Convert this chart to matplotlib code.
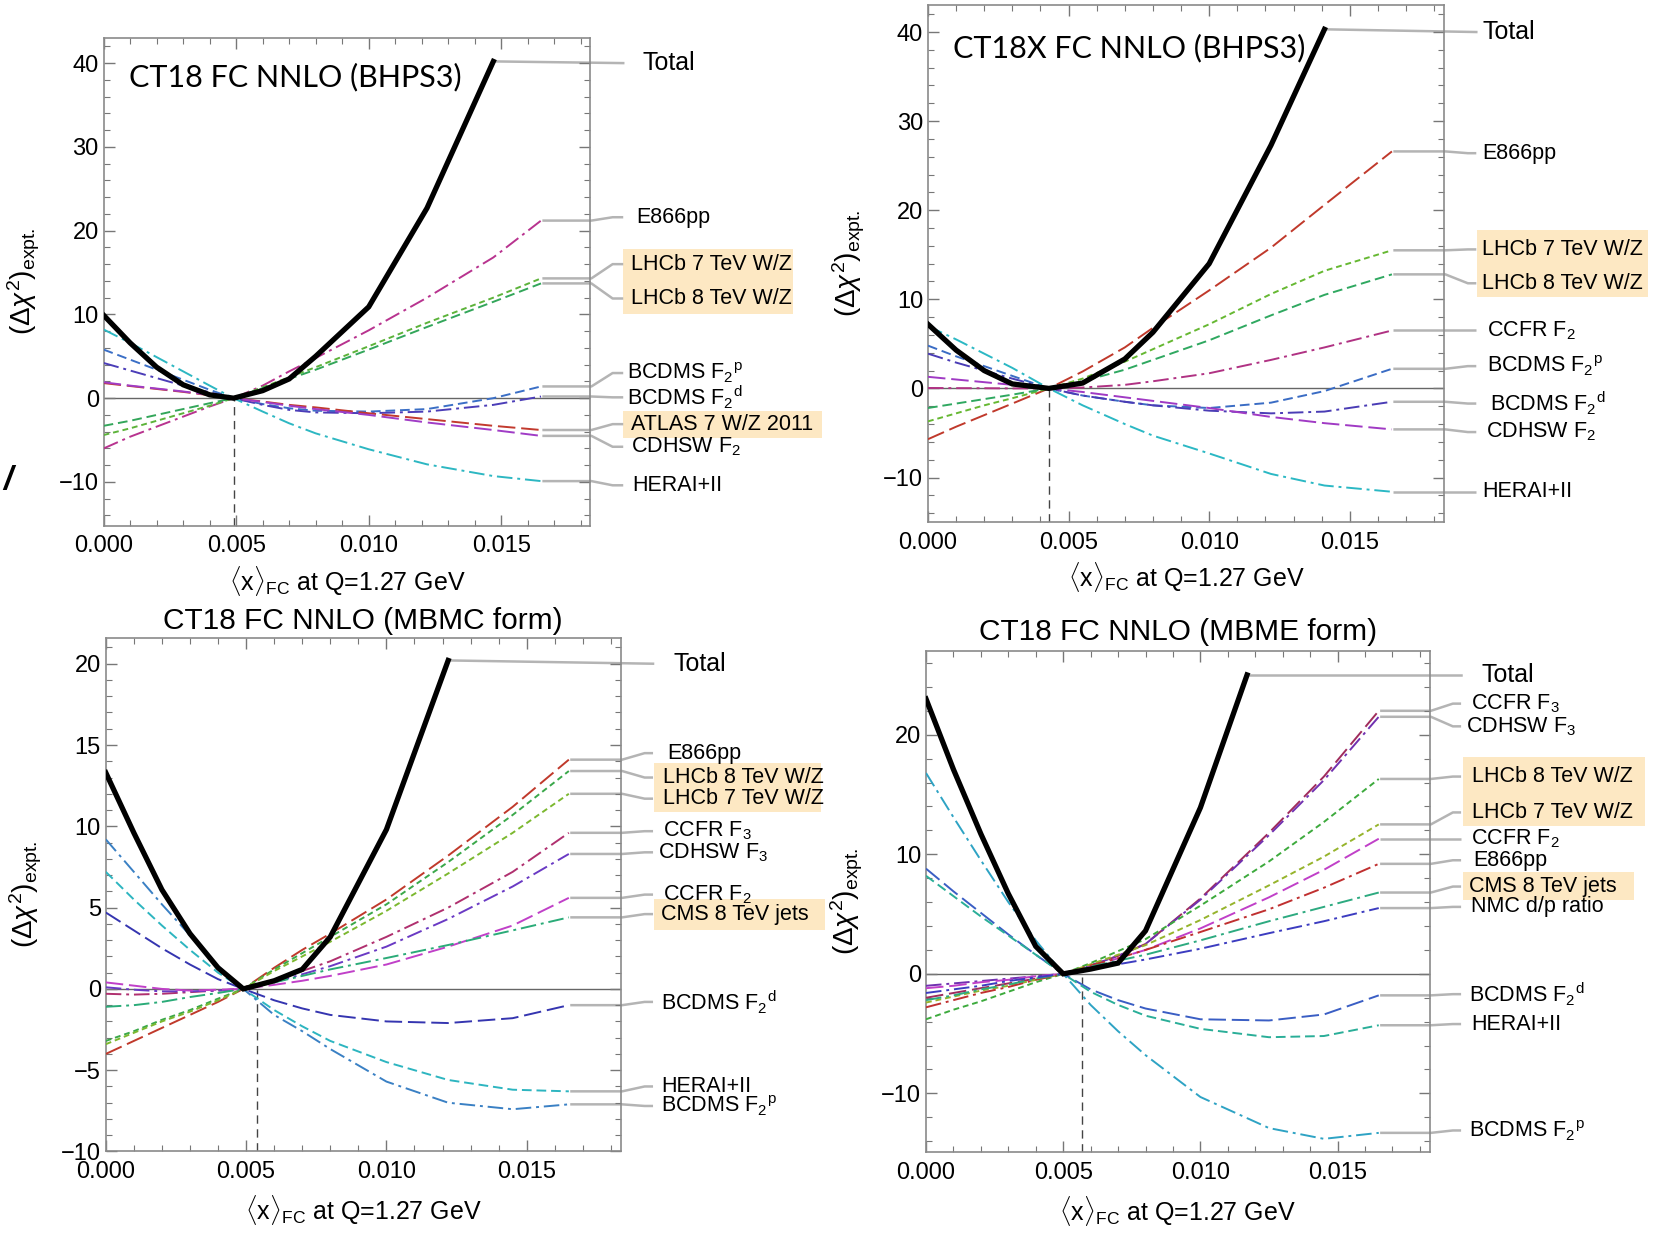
import matplotlib
matplotlib.use("Agg")
import matplotlib.pyplot as plt
from matplotlib.patches import Rectangle
from matplotlib.ticker import MultipleLocator

plt.rcParams['font.family'] = ['Liberation Sans', 'DejaVu Sans']
plt.rcParams['mathtext.fontset'] = 'custom'
plt.rcParams['mathtext.rm'] = 'Liberation Sans'
plt.rcParams['mathtext.it'] = 'Liberation Sans:italic'
plt.rcParams['mathtext.bf'] = 'Liberation Sans:bold'

# ------------------------------------------------------------------
# panel 1 : CT18 FC NNLO (BHPS3)
p1_x_total = [0.0, 0.001, 0.002, 0.003, 0.004, 0.0049, 0.006, 0.007, 0.008, 0.010, 0.0122, 0.0147]
p1_total = [9.9, 6.6, 3.7, 1.6, 0.4, 0.0, 0.9, 2.3, 5.0, 10.9, 22.7, 40.2]
p1_x = [0.0, 0.001, 0.002, 0.003, 0.004, 0.0049, 0.006, 0.007, 0.008, 0.010, 0.0122, 0.0147, 0.0165]
p1_e866 = [-6.0, -4.6, -3.4, -2.2, -1.0, 0.0, 1.5, 3.2, 4.8, 8.1, 12.0, 16.8, 21.2]
p1_lhcb7 = [-4.4, -3.6, -2.7, -1.8, -0.9, 0.0, 1.3, 2.5, 3.7, 6.2, 9.0, 12.0, 14.3]
p1_lhcb8 = [-3.3, -2.7, -2.0, -1.3, -0.6, 0.0, 1.2, 2.3, 3.4, 5.8, 8.5, 11.5, 13.7]
p1_bcdms_p = [5.8, 4.6, 3.4, 2.2, 1.0, 0.0, -0.7, -1.2, -1.5, -1.6, -1.3, 0.0, 1.4]
p1_bcdms_d = [4.2, 3.3, 2.4, 1.5, 0.7, 0.0, -0.8, -1.4, -1.7, -1.8, -1.6, -0.8, 0.2]
p1_atlas = [1.8, 1.45, 1.1, 0.75, 0.35, 0.0, -0.4, -0.8, -1.1, -1.8, -2.5, -3.3, -3.8]
p1_cdhsw_f2 = [1.9, 1.5, 1.15, 0.8, 0.4, 0.0, -0.45, -0.9, -1.3, -2.0, -2.9, -3.8, -4.5]
p1_hera = [8.2, 6.6, 4.9, 3.2, 1.5, 0.0, -1.6, -3.0, -4.2, -6.1, -7.9, -9.3, -9.9]
p1_min = 0.0049

# panel 2 : CT18X FC NNLO (BHPS3)
p2_x_total = [0.0, 0.001, 0.002, 0.003, 0.0043, 0.0055, 0.007, 0.008, 0.010, 0.0122, 0.0141]
p2_total = [7.2, 4.3, 2.0, 0.5, 0.0, 0.6, 3.3, 6.3, 14.0, 27.3, 40.3]
p2_x = [0.0, 0.001, 0.002, 0.003, 0.0043, 0.0055, 0.007, 0.008, 0.010, 0.0122, 0.0141, 0.0165]
p2_e866 = [-5.7, -4.3, -3.0, -1.7, 0.0, 1.9, 4.6, 6.8, 11.0, 15.8, 20.6, 26.6]
p2_lhcb7 = [-3.7, -2.8, -1.9, -1.1, 0.0, 1.1, 3.0, 4.4, 7.2, 10.6, 13.2, 15.5]
p2_lhcb8 = [-2.2, -1.7, -1.2, -0.7, 0.0, 0.8, 2.1, 3.2, 5.4, 8.2, 10.5, 12.8]
p2_ccfr_f2 = [0.05, 0.03, 0.02, 0.0, 0.0, 0.1, 0.4, 0.8, 1.7, 3.2, 4.6, 6.5]
p2_bcdms_p = [4.8, 3.6, 2.5, 1.4, 0.0, -0.8, -1.5, -1.9, -2.2, -1.6, -0.3, 2.2]
p2_bcdms_d = [3.9, 2.9, 2.0, 1.1, 0.0, -0.8, -1.5, -1.9, -2.5, -2.8, -2.6, -1.5]
p2_cdhsw_f2 = [1.3, 1.0, 0.7, 0.4, 0.0, -0.4, -1.0, -1.4, -2.2, -3.2, -3.9, -4.6]
p2_hera = [7.0, 5.5, 3.9, 2.3, 0.0, -1.9, -4.0, -5.3, -7.3, -9.6, -10.9, -11.6]
p2_min = 0.0043

# panel 3 : CT18 FC NNLO (MBMC form)
p3_x_total = [0.0, 0.001, 0.002, 0.003, 0.004, 0.0049, 0.006, 0.007, 0.008, 0.010, 0.0122]
p3_total = [13.3, 9.6, 6.1, 3.4, 1.3, 0.0, 0.5, 1.2, 3.2, 9.8, 20.2]
p3_x = [0.0, 0.001, 0.002, 0.003, 0.004, 0.0049, 0.006, 0.007, 0.008, 0.010, 0.0122, 0.0145, 0.0165]
p3_e866 = [-4.0, -3.2, -2.4, -1.6, -0.8, 0.0, 1.3, 2.4, 3.4, 5.5, 8.2, 11.2, 14.1]
p3_lhcb8 = [-3.2, -2.6, -1.9, -1.3, -0.6, 0.0, 1.2, 2.2, 3.2, 5.2, 7.8, 10.7, 13.4]
p3_lhcb7 = [-3.4, -2.7, -2.0, -1.4, -0.7, 0.0, 1.1, 2.0, 2.9, 4.8, 7.1, 9.6, 12.0]
p3_ccfr_f3 = [-0.3, -0.35, -0.3, -0.2, -0.1, 0.0, 0.5, 1.1, 1.7, 3.2, 5.0, 7.2, 9.6]
p3_cdhsw_f3 = [0.1, -0.05, -0.15, -0.15, -0.1, 0.0, 0.4, 0.9, 1.4, 2.6, 4.3, 6.3, 8.3]
p3_ccfr_f2 = [0.4, 0.2, 0.0, -0.1, -0.05, 0.0, 0.25, 0.5, 0.8, 1.5, 2.6, 3.9, 5.6]
p3_cms = [-1.1, -1.0, -0.8, -0.5, -0.25, 0.0, 0.4, 0.8, 1.2, 1.9, 2.7, 3.6, 4.4]
p3_bcdms_d = [4.7, 3.6, 2.5, 1.5, 0.6, 0.0, -0.7, -1.2, -1.6, -2.0, -2.1, -1.8, -1.0]
p3_hera = [7.2, 5.5, 3.9, 2.4, 1.0, 0.0, -1.3, -2.3, -3.2, -4.5, -5.6, -6.2, -6.3]
p3_bcdms_p = [9.2, 7.2, 5.2, 3.3, 1.4, 0.0, -1.6, -2.6, -3.7, -5.7, -7.0, -7.4, -7.1]
p3_min = 0.0054

# panel 4 : CT18 FC NNLO (MBME form)
p4_x_total = [0.0, 0.001, 0.002, 0.003, 0.004, 0.005, 0.006, 0.007, 0.008, 0.010, 0.0117]
p4_total = [23.0, 17.1, 11.7, 6.7, 2.3, 0.0, 0.4, 0.9, 3.6, 13.9, 25.0]
p4_x = [0.0, 0.001, 0.002, 0.003, 0.004, 0.005, 0.006, 0.007, 0.008, 0.010, 0.0125, 0.0145, 0.0165]
p4_ccfr_f3 = [-2.0, -1.6, -1.2, -0.8, -0.4, 0.0, 0.7, 1.5, 2.5, 6.3, 11.8, 16.5, 22.0]
p4_cdhsw_f3 = [-1.0, -0.8, -0.6, -0.4, -0.2, 0.0, 0.7, 1.5, 2.5, 6.2, 11.6, 16.2, 21.5]
p4_lhcb8 = [-3.8, -3.0, -2.3, -1.5, -0.7, 0.0, 0.9, 1.9, 2.9, 5.7, 9.4, 12.7, 16.3]
p4_lhcb7 = [-2.4, -1.9, -1.4, -1.0, -0.5, 0.0, 0.8, 1.6, 2.4, 4.5, 7.4, 9.8, 12.5]
p4_ccfr_f2 = [-1.2, -1.0, -0.7, -0.5, -0.2, 0.0, 0.6, 1.3, 2.0, 3.8, 6.4, 8.7, 11.3]
p4_e866 = [-2.8, -2.2, -1.6, -1.1, -0.5, 0.0, 0.7, 1.3, 2.0, 3.5, 5.4, 7.2, 9.2]
p4_cms = [-2.2, -1.8, -1.3, -0.9, -0.4, 0.0, 0.6, 1.1, 1.6, 2.8, 4.4, 5.6, 6.8]
p4_nmc = [-1.6, -1.3, -1.0, -0.6, -0.3, 0.0, 0.4, 0.8, 1.2, 2.1, 3.4, 4.4, 5.5]
p4_bcdms_d = [8.8, 6.9, 5.1, 3.3, 1.6, 0.0, -1.3, -2.2, -2.9, -3.8, -3.9, -3.4, -1.8]
p4_hera = [8.2, 6.5, 4.8, 3.2, 1.6, 0.0, -1.5, -2.6, -3.5, -4.6, -5.3, -5.2, -4.3]
p4_bcdms_p = [16.8, 13.1, 9.5, 6.0, 2.8, 0.0, -2.6, -4.8, -6.8, -10.3, -12.9, -13.8, -13.3]
p4_min = 0.0057
# ------------------------------------------------------------------

SHORT = (0, (3, 2))
MID = (0, (5, 2.5))
LONG = (0, (9, 3))
DDOT = (0, (8, 2.5, 1.5, 2.5))

GRAY = '#b4b4b4'
HILITE = '#fde8c3'
XMAX = 0.01835

F2P = r'F$_2$$^{\rm p}$'
F2D = r'F$_2$$^{\rm d}$'


def setup_axes(ax, ylim, ymajor, yminor):
    ax.set_xlim(0, XMAX)
    ax.set_ylim(*ylim)
    ax.xaxis.set_major_locator(MultipleLocator(0.005))
    ax.xaxis.set_minor_locator(MultipleLocator(0.001))
    ax.yaxis.set_major_locator(MultipleLocator(ymajor))
    ax.yaxis.set_minor_locator(MultipleLocator(yminor))
    ax.xaxis.set_major_formatter(plt.FuncFormatter(lambda v, p: '%.3f' % v))
    ax.tick_params(which='both', direction='in', top=True, right=True, color='#777777')
    ax.tick_params(which='major', length=8, width=1, labelsize=17)
    ax.tick_params(which='minor', length=4, width=0.8)
    ax.tick_params(axis='x', pad=7)
    for s in ax.spines.values():
        s.set_color('#8a8a8a')
        s.set_linewidth(1.2)
    ax.axhline(0, color='#666666', lw=1.0, zorder=1)
    ax.set_xlabel(r'$\langle$x$\rangle_{\rm FC}$ at Q=1.27 GeV', fontsize=18)
    ax.set_ylabel(r'$(\Delta\chi^2)_{\rm expt.}$', fontsize=20)


def set_label_pos(ax, fig, ylab_px, xlab_px):
    bb = ax.get_position()
    w = bb.width * fig.get_figwidth() * fig.dpi
    h = bb.height * fig.get_figheight() * fig.dpi
    ax.yaxis.set_label_coords(-ylab_px / w, 0.5)
    ax.xaxis.set_label_coords(0.5, -xlab_px / h)


def leader(ax, xe, ye, yl, xend, xb1=0.0184, xb2=0.0192):
    ax.plot([xe + 0.00005, xb1, xb2, xend], [ye, ye, yl, yl],
            color=GRAY, lw=1.8, clip_on=False, zorder=1, solid_capstyle='butt')


def draw_panel(ax, x_total, total, x, series, x_min, total_label, boxes, xend):
    ax.plot([x_min, x_min], [ax.get_ylim()[0], 0], color='#444444', lw=1.0,
            ls=(0, (6, 4)), zorder=2)
    for y, color, ls, lab, ylab, xt in series:
        ax.plot(x, y, color=color, ls=ls, lw=1.4, zorder=3)
        leader(ax, x[-1], y[-1], ylab, xend)
        ax.text(xt, ylab, lab, fontsize=15.5, va='center', ha='left')
    ax.plot(x_total, total, color='black', lw=3.8, zorder=4, solid_joinstyle='miter')
    ty, txt_x = total_label
    ax.plot([x_total[-1] + 0.0001, xend], [total[-1], ty], color=GRAY, lw=1.8,
            clip_on=False, zorder=1)
    ax.text(txt_x, ty, 'Total', fontsize=18, va='center', ha='left')
    for x0, x1, y0, y1 in boxes:
        ax.add_patch(Rectangle((x0, y0), x1 - x0, y1 - y0, facecolor=HILITE,
                               edgecolor='none', clip_on=False, zorder=0))


def main():
    fig = plt.figure(figsize=(16.58, 12.33), dpi=100)

    # ---------------- panel 1
    ax1 = fig.add_axes([0.0625, 0.5738, 0.2934, 0.3954])
    setup_axes(ax1, (-15.2, 43), 10, 2)
    s1 = [
        (p1_e866, '#b8338f', DDOT, 'E866pp', 21.6, 0.0201),
        (p1_lhcb7, '#5cb33a', SHORT, 'LHCb 7 TeV W/Z', 16.0, 0.0199),
        (p1_lhcb8, '#33a65a', MID, 'LHCb 8 TeV W/Z', 11.9, 0.0199),
        (p1_bcdms_p, '#3b6fc6', MID, 'BCDMS ' + F2P, 3.0, 0.01975),
        (p1_bcdms_d, '#4b3db8', DDOT, 'BCDMS ' + F2D, 0.1, 0.01975),
        (p1_atlas, '#c23a2e', LONG, 'ATLAS 7 W/Z 2011', -3.1, 0.0199),
        (p1_cdhsw_f2, '#a03cc6', LONG, r'CDHSW F$_2$', -5.8, 0.0199),
        (p1_hera, '#2db7c2', DDOT, 'HERAI+II', -10.4, 0.01995),
    ]
    draw_panel(ax1, p1_x_total, p1_total, p1_x, s1, p1_min, (40.0, 0.02034),
               [(0.01959, 0.02601, 10.05, 17.8), (0.01959, 0.02709, -4.8, -1.5)], 0.0196)
    ax1.text(0.00096, 38.3, 'CT18 FC NNLO (BHPS3)', fontsize=22, family='Lato',
             va='center', ha='left')
    set_label_pos(ax1, fig, 62, 38)

    # ---------------- panel 2
    ax2 = fig.add_axes([0.5597, 0.5766, 0.3112, 0.4191])
    setup_axes(ax2, (-15, 43), 10, 2)
    s2 = [
        (p2_e866, '#c0392b', LONG, 'E866pp', 26.4, 0.01972),
        (p2_lhcb7, '#66b832', SHORT, 'LHCb 7 TeV W/Z', 15.6, 0.01972),
        (p2_lhcb8, '#2fa860', MID, 'LHCb 8 TeV W/Z', 11.8, 0.01972),
        (p2_ccfr_f2, '#b03283', DDOT, r'CCFR F$_2$', 6.5, 0.01987),
        (p2_bcdms_p, '#3a6cc4', MID, 'BCDMS ' + F2P, 2.5, 0.01987),
        (p2_bcdms_d, '#4a3cb5', DDOT, 'BCDMS ' + F2D, -1.7, 0.01998),
        (p2_cdhsw_f2, '#a03ac4', LONG, r'CDHSW F$_2$', -4.9, 0.01984),
        (p2_hera, '#2bb8c4', DDOT, 'HERAI+II', -11.6, 0.01972),
    ]
    draw_panel(ax2, p2_x_total, p2_total, p2_x, s2, p2_min, (40.0, 0.01972),
               [(0.01953, 0.02562, 10.3, 17.75)], 0.0195)
    ax2.text(0.0009, 38.2, 'CT18X FC NNLO (BHPS3)', fontsize=22, family='Lato',
             va='center', ha='left')
    set_label_pos(ax2, fig, 61, 38)

    # ---------------- panel 3
    ax3 = fig.add_axes([0.0638, 0.0661, 0.3106, 0.4167])
    setup_axes(ax3, (-10, 21.6), 5, 1)
    s3 = [
        (p3_e866, '#c0392b', LONG, 'E866pp', 14.5, 0.0200),
        (p3_lhcb8, '#3aa84a', SHORT, 'LHCb 8 TeV W/Z', 13.0, 0.01984),
        (p3_lhcb7, '#7cb82f', SHORT, 'LHCb 7 TeV W/Z', 11.7, 0.01984),
        (p3_ccfr_f3, '#b0306f', DDOT, r'CCFR F$_3$', 9.7, 0.01984),
        (p3_cdhsw_f3, '#6a3ac4', DDOT, r'CDHSW F$_3$', 8.4, 0.01966),
        (p3_ccfr_f2, '#c040c8', LONG, r'CCFR F$_2$', 5.8, 0.01984),
        (p3_cms, '#2aab78', DDOT, 'CMS 8 TeV jets', 4.6, 0.01977),
        (p3_bcdms_d, '#3535b0', LONG, 'BCDMS ' + F2D, -0.8, 0.01980),
        (p3_hera, '#2db5c0', MID, 'HERAI+II', -6.0, 0.01980),
        (p3_bcdms_p, '#3a80c4', DDOT, 'BCDMS ' + F2P, -7.2, 0.01980),
    ]
    draw_panel(ax3, p3_x_total, p3_total, p3_x, s3, p3_min, (20.0, 0.02022),
               [(0.01954, 0.02548, 10.9, 13.9), (0.01954, 0.02563, 3.6, 5.56)], 0.0195)
    ax3.text(0.5, 1.0 + 17 / 514, 'CT18 FC NNLO (MBMC form)', fontsize=21.5,
             transform=ax3.transAxes, ha='center', va='center')
    set_label_pos(ax3, fig, 62, 42)

    # ---------------- panel 4
    ax4 = fig.add_axes([0.5585, 0.0657, 0.3037, 0.4063])
    setup_axes(ax4, (-14.9, 27), 10, 2)
    s4 = [
        (p4_ccfr_f3, '#a02c5c', LONG, r'CCFR F$_3$', 22.6, 0.01987),
        (p4_cdhsw_f3, '#7030b0', DDOT, r'CDHSW F$_3$', 20.7, 0.01968),
        (p4_lhcb8, '#3daa3d', SHORT, 'LHCb 8 TeV W/Z', 16.5, 0.01991),
        (p4_lhcb7, '#96b42c', SHORT, 'LHCb 7 TeV W/Z', 13.5, 0.01991),
        (p4_ccfr_f2, '#c040c8', LONG, r'CCFR F$_2$', 11.3, 0.01987),
        (p4_e866, '#c03030', DDOT, 'E866pp', 9.5, 0.01995),
        (p4_cms, '#2daa80', DDOT, 'CMS 8 TeV jets', 7.3, 0.01979),
        (p4_nmc, '#3c3cc0', DDOT, 'NMC d/p ratio', 5.6, 0.01987),
        (p4_bcdms_d, '#3a5ec4', LONG, 'BCDMS ' + F2D, -1.7, 0.01979),
        (p4_hera, '#2aae98', MID, 'HERAI+II', -4.2, 0.01987),
        (p4_bcdms_p, '#2ea3c4', DDOT, 'BCDMS ' + F2P, -13.1, 0.01979),
    ]
    draw_panel(ax4, p4_x_total, p4_total, p4_x, s4, p4_min, (25.0, 0.02026),
               [(0.01956, 0.02619, 12.4, 18.1), (0.01956, 0.0258, 6.2, 8.5)], 0.0195)
    ax4.text(0.5, 1.0 + 19 / 501, 'CT18 FC NNLO (MBME form)', fontsize=21.5,
             transform=ax4.transAxes, ha='center', va='center')
    set_label_pos(ax4, fig, 61, 42)

    # stray mark at the left edge of the original slide
    fig.text(0.002, 1 - 481 / 1233, '/', fontsize=24, fontweight='bold',
             fontstyle='italic', va='center')

    fig.savefig('out.png', dpi=100)


if __name__ == "__main__":
    main()
